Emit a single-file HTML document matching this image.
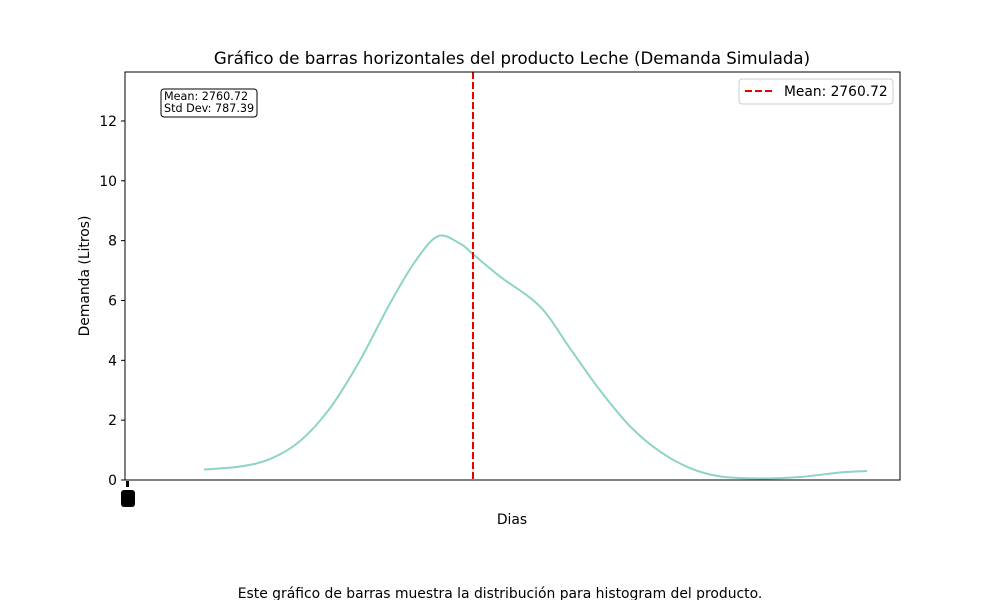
<!DOCTYPE html>
<html><head><meta charset="utf-8"><style>body{margin:0;background:#fff}svg{display:block;font-family:"DejaVu Sans","Liberation Sans",sans-serif}</style></head>
<body>
<svg id="c" width="1000" height="600">
<rect x="0" y="0" width="1000" height="600" fill="#fff"/>
<text x="512" y="64" font-size="16.6" text-anchor="middle">Gráfico de barras horizontales del producto Leche (Demanda Simulada)</text>
<g id="yt"></g>
<path id="kde" fill="none" stroke="#8dd3c7" stroke-width="2"/>
<line id="mean" y1="72" y2="480" stroke="#e00" stroke-width="2" stroke-dasharray="7,3"/>
<rect x="125" y="72" width="775" height="408" fill="none" stroke="#000"/>
<g>
<rect x="126" y="481" width="3" height="6" fill="#000"/>
<rect x="121" y="490" width="14" height="17" rx="3" fill="#000"/>
</g>
<text x="512" y="524" font-size="13.9" text-anchor="middle">Dias</text>
<text transform="translate(89,276) rotate(-90)" font-size="13.9" text-anchor="middle">Demanda (Litros)</text>
<g>
<rect x="161" y="89" width="96" height="28" rx="3" fill="#fff" stroke="#000"/>
<text x="164" y="100" font-size="11.2">Mean: 2760.72</text>
<text x="164" y="112" font-size="11.2">Std Dev: 787.39</text>
</g>
<g>
<rect x="739" y="79" width="154" height="25" rx="3" fill="#fff" stroke="#ccc"/>
<line x1="745" y1="91" x2="775" y2="91" stroke="#e00" stroke-width="2" stroke-dasharray="7,3"/>
<text x="784" y="96" font-size="13.8">Mean: 2760.72</text>
</g>
<text x="500" y="598" font-size="13.9" text-anchor="middle">Este gráfico de barras muestra la distribución para histogram del producto.</text>
</svg>
<script>
const xs=[627,912,1150,1388,1626,1864,2102,2301,2483,2658,2761,2975,3292,3530,3768,4006,4244,4482,4720,5038,5355,5672,5887];
const ys=[0.35,0.45,0.7,1.3,2.4,4.0,5.9,7.3,8.15,7.9,7.55,6.8,5.8,4.4,3.0,1.8,0.95,0.4,0.12,0.05,0.1,0.25,0.3];
const meanVal=2760.72;
const yTicks=[0,2,4,6,8,10,12];
const X=v=>125+v*(348/2760.72), Y=v=>480-v*29.92;
const ns="http://www.w3.org/2000/svg";
const yt=document.getElementById('yt');
yTicks.forEach(t=>{
 const l=document.createElementNS(ns,'line');
 
 
 l.setAttribute('x1',121);l.setAttribute('x2',125);l.setAttribute('y1',Y(t));l.setAttribute('y2',Y(t));l.setAttribute('stroke','#000');yt.appendChild(l);
 const s=document.createElementNS(ns,'text');
 
 
 s.setAttribute('x',117);s.setAttribute('y',Y(t)+5);s.setAttribute('text-anchor','end');s.setAttribute('font-size','13.9');s.textContent=t;yt.appendChild(s);
});
const P=xs.map((x,i)=>[X(x),Y(ys[i])]);
let d='M'+P[0][0]+','+P[0][1];
for(let i=0;i<P.length-1;i++){const p0=P[i-1]||P[i],p1=P[i],p2=P[i+1],p3=P[i+2]||p2;
d+=` C${p1[0]+(p2[0]-p0[0])/6},${p1[1]+(p2[1]-p0[1])/6} ${p2[0]-(p3[0]-p1[0])/6},${p2[1]-(p3[1]-p1[1])/6} ${p2[0]},${p2[1]}`;}
document.getElementById('kde').setAttribute('d',d);
const m=document.getElementById('mean');m.setAttribute('x1',X(meanVal));m.setAttribute('x2',X(meanVal));
</script>
</body></html>
